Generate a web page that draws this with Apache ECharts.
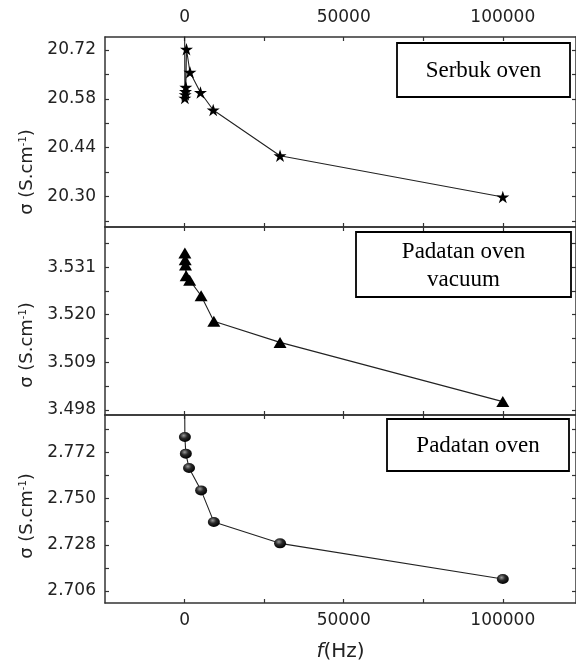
<!DOCTYPE html>
<html>
<head>
<meta charset="utf-8">
<script src="https://cdn.jsdelivr.net/npm/echarts@6/dist/echarts.min.js"></script>
<style>
  html, body { margin: 0; padding: 0; background: #fff; }
  #chart { width: 576px; height: 669px; }
</style>
</head>
<body>
<div id="chart"></div>
<script>
// frequency (Hz) and conductivity per sample
const freqTop = [20, 100, 200, 300, 400, 600, 1700, 5000, 9000, 30000, 100000]
const sigmaTop = [20.80, 20.582, 20.592, 20.601, 20.613, 20.722, 20.656, 20.598, 20.548, 20.417, 20.299]

const freqMid = [100, 200, 300, 500, 1600, 5200, 9200, 30000, 100000]
const sigmaMid = [3.5343, 3.5327, 3.5315, 3.5290, 3.5280, 3.5244, 3.5185, 3.5136, 3.4999]

const freqBot = [20, 100, 400, 1400, 5200, 9200, 30000, 100000]
const sigmaBot = [2.80, 2.7793, 2.7714, 2.7646, 2.7539, 2.7389, 2.7287, 2.7117]

// axis ticks / labels
const xTicks = [0, 25000, 50000, 75000, 100000]
const xLabels = [0, 50000, 100000]
const yTicksTop = [20.23, 20.30, 20.37, 20.44, 20.51, 20.58, 20.65, 20.72]
const yLabelsTop = [20.30, 20.44, 20.58, 20.72]
const yTicksMid = [3.498, 3.5035, 3.509, 3.5145, 3.520, 3.5255, 3.531, 3.5365]
const yLabelsMid = [3.498, 3.509, 3.520, 3.531]
const yTicksBot = [2.706, 2.717, 2.728, 2.739, 2.750, 2.761, 2.772, 2.783]
const yLabelsBot = [2.706, 2.728, 2.750, 2.772]

const panelNames = ['Serbuk oven', 'Padatan oven\nvacuum', 'Padatan oven']

const AXIS_COLOR = '#333'
const TEXT_COLOR = '#222'
const FONT = 'DejaVu Sans'

const grids = [
  { left: 105, top: 37, width: 472, height: 190 },
  { left: 105, top: 227, width: 472, height: 188 },
  { left: 105, top: 415, width: 472, height: 188 },
]
const yRanges = [
  [20.213, 20.757],
  [3.4968, 3.5403],
  [2.7003, 2.7898],
]
const yTicks = [yTicksTop, yTicksMid, yTicksBot]
const yLabels = [yLabelsTop, yLabelsMid, yLabelsBot]
const yDigits = [2, 3, 3]

function xAxisFor(gridIndex, position, withLabels) {
  return {
    type: 'value',
    gridIndex,
    position,
    min: -25000,
    max: 123000,
    axisLine: { show: true, onZero: false, lineStyle: { color: AXIS_COLOR, width: 1.5 } },
    axisTick: { show: true, inside: true, length: 4, customValues: xTicks, lineStyle: { color: AXIS_COLOR, width: 1.2 } },
    axisLabel: {
      show: withLabels,
      customValues: xLabels,
      formatter: (v) => String(Math.round(v)),
      margin: position === 'top' ? 11 : 9,
      color: TEXT_COLOR,
      fontFamily: FONT,
      fontSize: 17,
    },
    splitLine: { show: false },
  }
}

function yAxisFor(i, position) {
  return {
    type: 'value',
    gridIndex: i,
    position,
    min: yRanges[i][0],
    max: yRanges[i][1],
    axisLine: { show: true, onZero: false, lineStyle: { color: AXIS_COLOR, width: 1.5 } },
    axisTick: { show: true, inside: true, length: 4, customValues: yTicks[i], lineStyle: { color: AXIS_COLOR, width: 1.2 } },
    axisLabel: {
      show: position === 'left',
      customValues: yLabels[i],
      formatter: (v) => Number(v).toFixed(yDigits[i]),
      margin: 9,
      color: TEXT_COLOR,
      fontFamily: FONT,
      fontSize: 17,
    },
    splitLine: { show: false },
  }
}

const xAxes = []
const yAxes = []
grids.forEach((g, i) => {
  xAxes.push(xAxisFor(i, 'bottom', i === 2))
  xAxes.push(xAxisFor(i, 'top', i === 0))
  yAxes.push(yAxisFor(i, 'left'))
  yAxes.push(yAxisFor(i, 'right'))
})
xAxes[4].name = '{i|f}(Hz)'
xAxes[4].nameLocation = 'middle'
xAxes[4].nameGap = 39
xAxes[4].nameTextStyle = {
  color: TEXT_COLOR,
  fontFamily: FONT,
  fontSize: 20,
  rich: { i: { fontStyle: 'italic', fontFamily: FONT, fontSize: 20, color: TEXT_COLOR } },
}

const starPath = 'path://M50,0L61.2,34.6L97.6,34.5L68.1,55.9L79.4,90.5L50,69L20.6,90.5L31.9,55.9L2.4,34.5L38.8,34.6Z'

function lineSeries(i, freq, sigma, symbol, symbolSize, color) {
  return {
    type: 'line',
    xAxisIndex: i * 2,
    yAxisIndex: i * 2,
    data: freq.map((f, k) => [f, sigma[k]]),
    symbol,
    symbolSize,
    symbolKeepAspect: true,
    showAllSymbol: true,
    clip: true,
    lineStyle: { color: '#222', width: 1.1 },
    itemStyle: { color, borderWidth: 0 },
    emphasis: { disabled: true },
    animation: false,
  }
}

const ballColor = {
  type: 'radial', x: 0.4, y: 0.35, r: 0.65,
  colorStops: [
    { offset: 0, color: '#9a9a9a' },
    { offset: 0.45, color: '#2a2a2a' },
    { offset: 1, color: '#000' },
  ],
}

// y titles and text boxes
const titleCenters = [172, 345, 516]
const graphic = titleCenters.map((cy) => ({
  type: 'text',
  x: 27,
  y: cy,
  rotation: Math.PI / 2,
  style: {
    text: 'σ (S.cm{sup|-1})',
    fontFamily: FONT,
    fontSize: 18,
    fill: TEXT_COLOR,
    align: 'center',
    verticalAlign: 'middle',
    rich: { sup: { fontFamily: FONT, fontSize: 10, verticalAlign: 'top', fill: TEXT_COLOR } },
  },
}))

const boxes = [
  { x: 397, y: 43, w: 173, h: 54 },
  { x: 356, y: 232, w: 215, h: 65 },
  { x: 387, y: 419, w: 182, h: 52 },
]
boxes.forEach((b, i) => {
  graphic.push({
    type: 'rect',
    shape: { x: b.x, y: b.y, width: b.w, height: b.h },
    style: { fill: '#fff', stroke: '#000', lineWidth: 1.8 },
    z: 10,
  })
  graphic.push({
    type: 'text',
    x: b.x + b.w / 2,
    y: b.y + b.h / 2 + 1,
    style: {
      text: panelNames[i],
      fontFamily: 'Liberation Serif',
      fontSize: 23,
      lineHeight: 28,
      fill: '#000',
      align: 'center',
      verticalAlign: 'middle',
    },
    z: 11,
  })
})

const chart = echarts.init(document.getElementById('chart'))
chart.setOption({
  backgroundColor: '#fff',
  animation: false,
  grid: grids,
  xAxis: xAxes,
  yAxis: yAxes,
  series: [
    lineSeries(0, freqTop, sigmaTop, starPath, 13, '#000'),
    lineSeries(1, freqMid, sigmaMid, 'triangle', [13, 11], '#000'),
    lineSeries(2, freqBot, sigmaBot, 'circle', [12, 10], ballColor),
  ],
  graphic,
})
</script>
</body>
</html>
